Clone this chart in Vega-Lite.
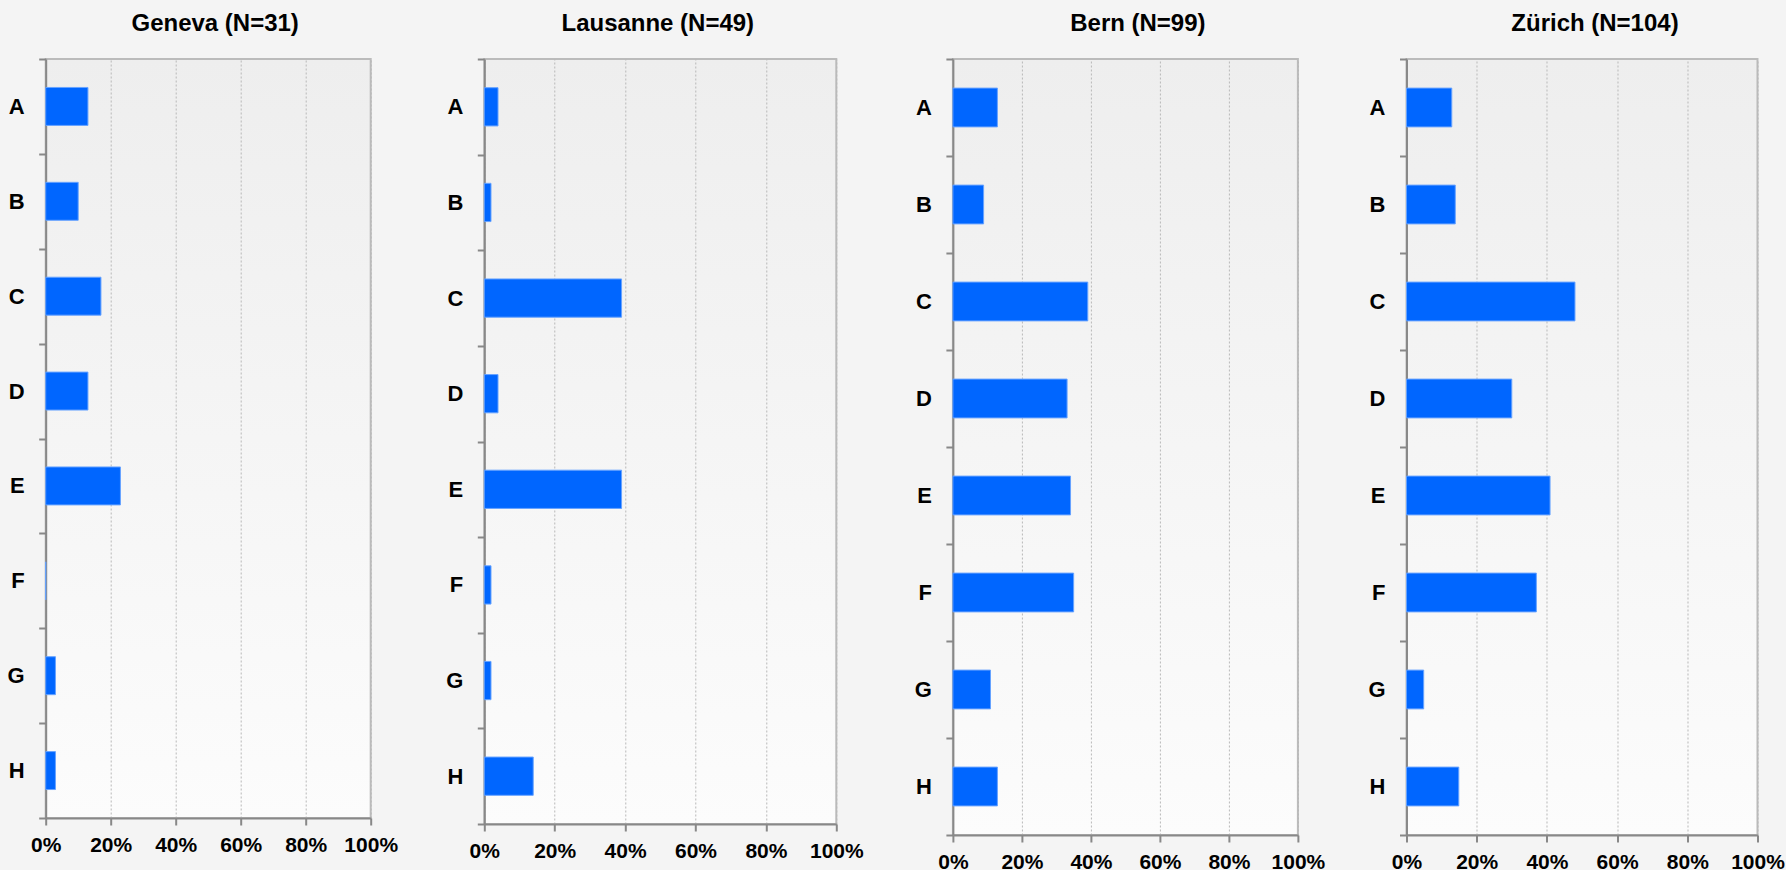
{
  "$schema": "https://vega.github.io/schema/vega-lite/v6.json",
  "background": "#f4f4f4",
  "padding": {"left": 5.7, "top": 10, "right": 0, "bottom": 0},
  "spacing": 40.6,
  "data": {
    "values": [
      {"city": "Geneva", "cat": "A", "value": 0.13},
      {"city": "Geneva", "cat": "B", "value": 0.10},
      {"city": "Geneva", "cat": "C", "value": 0.17},
      {"city": "Geneva", "cat": "D", "value": 0.13},
      {"city": "Geneva", "cat": "E", "value": 0.23},
      {"city": "Geneva", "cat": "F", "value": 0},
      {"city": "Geneva", "cat": "G", "value": 0.03},
      {"city": "Geneva", "cat": "H", "value": 0.03},
      {"city": "Lausanne", "cat": "A", "value": 0.039},
      {"city": "Lausanne", "cat": "B", "value": 0.019},
      {"city": "Lausanne", "cat": "C", "value": 0.39},
      {"city": "Lausanne", "cat": "D", "value": 0.039},
      {"city": "Lausanne", "cat": "E", "value": 0.39},
      {"city": "Lausanne", "cat": "F", "value": 0.019},
      {"city": "Lausanne", "cat": "G", "value": 0.019},
      {"city": "Lausanne", "cat": "H", "value": 0.139},
      {"city": "Bern", "cat": "A", "value": 0.129},
      {"city": "Bern", "cat": "B", "value": 0.089},
      {"city": "Bern", "cat": "C", "value": 0.391},
      {"city": "Bern", "cat": "D", "value": 0.331},
      {"city": "Bern", "cat": "E", "value": 0.341},
      {"city": "Bern", "cat": "F", "value": 0.35},
      {"city": "Bern", "cat": "G", "value": 0.109},
      {"city": "Bern", "cat": "H", "value": 0.129},
      {"city": "Zürich", "cat": "A", "value": 0.129},
      {"city": "Zürich", "cat": "B", "value": 0.139},
      {"city": "Zürich", "cat": "C", "value": 0.48},
      {"city": "Zürich", "cat": "D", "value": 0.30},
      {"city": "Zürich", "cat": "E", "value": 0.409},
      {"city": "Zürich", "cat": "F", "value": 0.37},
      {"city": "Zürich", "cat": "G", "value": 0.049},
      {"city": "Zürich", "cat": "H", "value": 0.149}
    ]
  },
  "hconcat": [
    {
      "title": {"text": "Geneva (N=31)", "offset": 12.3, "dx": 7},
      "width": 325, "height": 759,
      "transform": [{"filter": "datum.city === 'Geneva'"}],
      "mark": {"type": "bar", "height": {"band": 0.4}, "color": "#0066ff", "stroke": "#66a3ff", "strokeWidth": 1},
      "encoding": {
        "y": {"field": "cat", "type": "nominal", "title": null, "scale": {"paddingInner": 0, "paddingOuter": 0}},
        "x": {"field": "value", "type": "quantitative", "title": null, "scale": {"domain": [0, 1]}, "axis": {"format": ".0%", "values": [0, 0.2, 0.4, 0.6, 0.8, 1]}}
      }
    },
    {
      "title": {"text": "Lausanne (N=49)", "offset": 12.3, "dx": -2.5},
      "width": 352, "height": 765,
      "transform": [{"filter": "datum.city === 'Lausanne'"}],
      "mark": {"type": "bar", "height": {"band": 0.4}, "color": "#0066ff", "stroke": "#66a3ff", "strokeWidth": 1},
      "encoding": {
        "y": {"field": "cat", "type": "nominal", "title": null, "scale": {"paddingInner": 0, "paddingOuter": 0}, "axis": {"minExtent": 43.3}},
        "x": {"field": "value", "type": "quantitative", "title": null, "scale": {"domain": [0, 1]}, "axis": {"format": ".0%", "values": [0, 0.2, 0.4, 0.6, 0.8, 1]}}
      }
    },
    {
      "title": {"text": "Bern (N=99)", "offset": 12.3, "dx": 12.5},
      "width": 345, "height": 776,
      "transform": [{"filter": "datum.city === 'Bern'"}],
      "mark": {"type": "bar", "height": {"band": 0.4}, "color": "#0066ff", "stroke": "#66a3ff", "strokeWidth": 1},
      "encoding": {
        "y": {"field": "cat", "type": "nominal", "title": null, "scale": {"paddingInner": 0, "paddingOuter": 0}, "axis": {"minExtent": 46.2}},
        "x": {"field": "value", "type": "quantitative", "title": null, "scale": {"domain": [0, 1]}, "axis": {"format": ".0%", "values": [0, 0.2, 0.4, 0.6, 0.8, 1]}}
      }
    },
    {
      "title": {"text": "Zürich (N=104)", "offset": 12.3, "dx": 13},
      "width": 351, "height": 776,
      "transform": [{"filter": "datum.city === 'Zürich'"}],
      "mark": {"type": "bar", "height": {"band": 0.4}, "color": "#0066ff", "stroke": "#66a3ff", "strokeWidth": 1},
      "encoding": {
        "y": {"field": "cat", "type": "nominal", "title": null, "scale": {"paddingInner": 0, "paddingOuter": 0}},
        "x": {"field": "value", "type": "quantitative", "title": null, "scale": {"domain": [0, 1]}, "axis": {"format": ".0%", "values": [0, 0.2, 0.4, 0.6, 0.8, 1]}}
      }
    }
  ],
  "config": {
    "view": {
      "stroke": "#bbbbbb",
      "strokeWidth": 2,
      "fill": {"expr": "{gradient: 'linear', x1: 0, y1: 0, x2: 0, y2: 1, stops: [{offset: 0, color: '#eeeeee'}, {offset: 1, color: '#fcfcfc'}]}"}
    },
    "title": {"font": "Liberation Sans", "fontSize": 24, "fontWeight": "bold", "color": "#000000", "anchor": "middle"},
    "axis": {
      "labelFont": "Liberation Sans",
      "labelFontWeight": "bold",
      "labelColor": "#000000",
      "domainColor": "#888888",
      "domainWidth": 2,
      "tickColor": "#888888",
      "tickWidth": 2,
      "tickSize": 7
    },
    "axisX": {
      "labelFontSize": 21,
      "labelPadding": 9.5,
      "grid": true,
      "gridColor": "#b8b8b8",
      "gridDash": [2, 2],
      "gridWidth": 1,
      "labelFlush": false,
      "labelOverlap": false
    },
    "axisY": {
      "labelFontSize": 22,
      "labelPadding": 14.5,
      "grid": false,
      "tickBand": "extent"
    }
  }
}
